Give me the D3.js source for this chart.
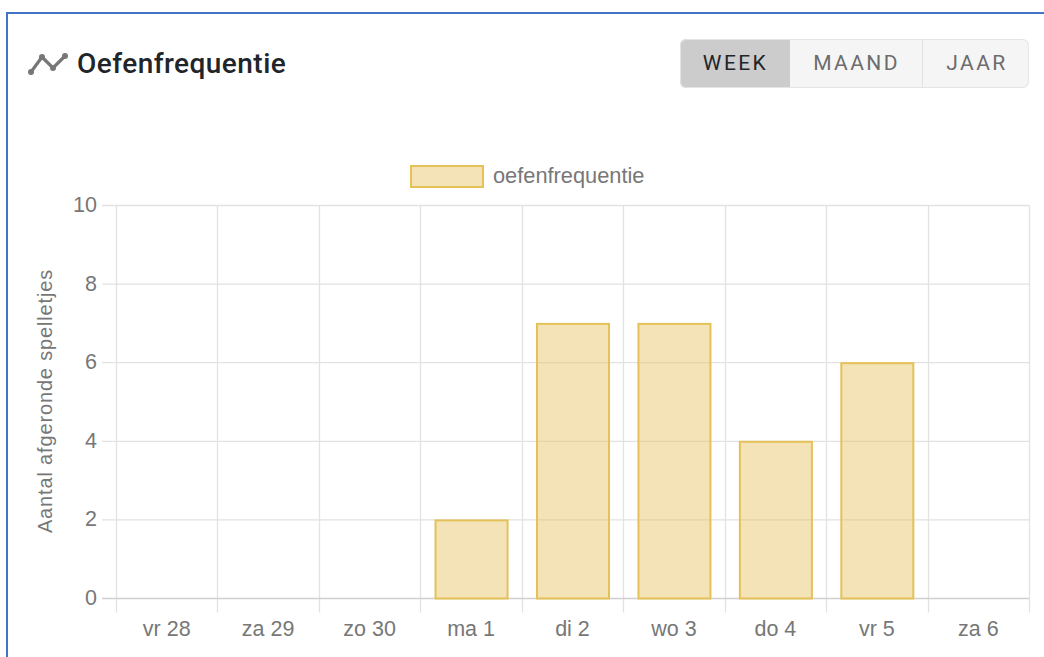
<!DOCTYPE html>
<html>
<head>
<meta charset="utf-8">
<script src="https://cdn.jsdelivr.net/npm/d3@7"></script>
<style>
  html, body { margin: 0; padding: 0; background: #fff; overflow: hidden; }
</style>
</head>
<body>
<div id="chart"></div>
<script>
const days = ["vr 28", "za 29", "zo 30", "ma 1", "di 2", "wo 3", "do 4", "vr 5", "za 6"];
const frequency = [0, 0, 0, 2, 7, 7, 4, 6, 0];
const yTicks = [0, 2, 4, 6, 8, 10];
const buttonLabels = ["WEEK", "MAAND", "JAAR"];
const buttonEdges = [680, 790, 922, 1029];
const iconPoints = [[31, 72], [42, 57], [53, 68], [65, 56]];

const width = 1044;
const height = 657;
const margin = {top: 205.5, right: 15, bottom: 58.5, left: 116};
const sans = "Arial, 'Liberation Sans', sans-serif";
const textColor = "#777";

const svg = d3.select("#chart")
  .append("svg")
  .attr("width", width)
  .attr("height", height)
  .style("display", "block");

// Blue frame of the screenshot
svg.append("rect").attr("x", 6).attr("y", 12).attr("width", width).attr("height", 2).attr("fill", "#4472c4");
svg.append("rect").attr("x", 6).attr("y", 12).attr("width", 2).attr("height", height).attr("fill", "#4472c4");

// Title + icon
const icon = svg.append("g");
icon.append("path")
  .attr("d", d3.line()(iconPoints))
  .attr("fill", "none")
  .attr("stroke", "#777")
  .attr("stroke-width", 3.2);
icon.selectAll("circle")
  .data(iconPoints)
  .enter()
  .append("circle")
  .attr("cx", d => d[0])
  .attr("cy", d => d[1])
  .attr("r", 3)
  .attr("fill", "#777");

svg.append("text")
  .attr("x", 77)
  .attr("y", 72.5)
  .style("font-family", "Roboto, sans-serif")
  .style("font-size", "28px")
  .style("font-weight", 500)
  .style("letter-spacing", "0.45px")
  .style("fill", "#212529")
  .text("Oefenfrequentie");

// Button group
const clipButtons = svg.append("clipPath").attr("id", "btn-clip");
clipButtons.append("rect")
  .attr("x", 680).attr("y", 39).attr("width", 349).attr("height", 49).attr("rx", 6);

const buttons = svg.append("g").attr("clip-path", "url(#btn-clip)");
buttons.selectAll("rect")
  .data(buttonLabels)
  .enter()
  .append("rect")
  .attr("x", (d, i) => buttonEdges[i])
  .attr("y", 39)
  .attr("width", (d, i) => buttonEdges[i + 1] - buttonEdges[i])
  .attr("height", 49)
  .attr("fill", (d, i) => i === 0 ? "#cccccc" : "#f5f5f5");
buttons.append("line")
  .attr("x1", 922.5).attr("x2", 922.5).attr("y1", 39).attr("y2", 88)
  .attr("stroke", "#e2e2e2").attr("stroke-width", 1);

svg.append("rect")
  .attr("x", 680.5).attr("y", 39.5).attr("width", 348).attr("height", 48).attr("rx", 6)
  .attr("fill", "none").attr("stroke", "#e4e4e4");

svg.selectAll(".btn-label")
  .data(buttonLabels)
  .enter()
  .append("text")
  .attr("class", "btn-label")
  .attr("x", (d, i) => (buttonEdges[i] + buttonEdges[i + 1]) / 2 + (i === 2 ? 1.5 : 0.5))
  .attr("y", 70)
  .attr("text-anchor", "middle")
  .style("font-family", "Roboto, sans-serif")
  .style("font-size", "21px")
  .style("font-weight", 400)
  .style("letter-spacing", "2.4px")
  .style("fill", (d, i) => i === 0 ? "#212529" : "#6c6c6c")
  .text(d => d);

// Scales
const xScale = d3.scaleBand()
  .domain(days)
  .range([margin.left, width - margin.right]);

const yScale = d3.scaleLinear()
  .domain([0, 10])
  .range([height - margin.bottom, margin.top]);

const barWidth = xScale.bandwidth() * 0.71;
const bottom = yScale(0);
const gridColor = "#e2e2e2";

// Grid lines
const xEdges = days.map(d => xScale(d)).concat([width - margin.right]);
svg.selectAll(".grid-v")
  .data(xEdges)
  .enter()
  .append("line")
  .attr("class", "grid-v")
  .attr("x1", d => Math.round(d) + 0.5)
  .attr("x2", d => Math.round(d) + 0.5)
  .attr("y1", margin.top)
  .attr("y2", bottom + 14)
  .attr("stroke", gridColor)
  .attr("stroke-width", 1.3);

svg.selectAll(".grid-h")
  .data(yTicks)
  .enter()
  .append("line")
  .attr("class", "grid-h")
  .attr("x1", margin.left - 14)
  .attr("x2", width - margin.right)
  .attr("y1", d => yScale(d))
  .attr("y2", d => yScale(d))
  .attr("stroke", d => d === 0 ? "#cfcfcf" : gridColor)
  .attr("stroke-width", 1.3);

// Bars
svg.selectAll(".bar")
  .data(days.map((d, i) => ({day: d, value: frequency[i]})).filter(d => d.value > 0))
  .enter()
  .append("rect")
  .attr("class", "bar")
  .attr("x", d => xScale(d.day) + (xScale.bandwidth() - barWidth) / 2 + 0.5)
  .attr("y", d => yScale(d.value) + 0.5)
  .attr("width", barWidth)
  .attr("height", d => bottom - yScale(d.value) - 0.5)
  .attr("fill", "#e6c465")
  .attr("fill-opacity", 0.47)
  .attr("stroke", "#e6c158")
  .attr("stroke-width", 2);

// Axis labels
svg.selectAll(".x-label")
  .data(days)
  .enter()
  .append("text")
  .attr("class", "x-label")
  .attr("x", d => xScale(d) + xScale.bandwidth() / 2)
  .attr("y", 636)
  .attr("text-anchor", "middle")
  .style("font-family", sans)
  .style("font-size", "21.5px")
  .style("fill", textColor)
  .text(d => d);

svg.selectAll(".y-label")
  .data(yTicks)
  .enter()
  .append("text")
  .attr("class", "y-label")
  .attr("x", 97)
  .attr("y", d => yScale(d) + 6.5)
  .attr("text-anchor", "end")
  .style("font-family", sans)
  .style("font-size", "21.5px")
  .style("fill", textColor)
  .text(d => d);

svg.append("text")
  .attr("transform", "translate(52, 401) rotate(-90)")
  .attr("text-anchor", "middle")
  .style("font-family", sans)
  .style("font-size", "20px")
  .style("letter-spacing", "0.85px")
  .style("fill", textColor)
  .text("Aantal afgeronde spelletjes");

// Legend
svg.append("rect")
  .attr("x", 411).attr("y", 166).attr("width", 72).attr("height", 21)
  .attr("fill", "#e6c465").attr("fill-opacity", 0.47)
  .attr("stroke", "#e6c158").attr("stroke-width", 2);

svg.append("text")
  .attr("x", 493)
  .attr("y", 183)
  .style("font-family", sans)
  .style("font-size", "21.8px")
  .style("fill", textColor)
  .text("oefenfrequentie");
</script>
</body>
</html>
